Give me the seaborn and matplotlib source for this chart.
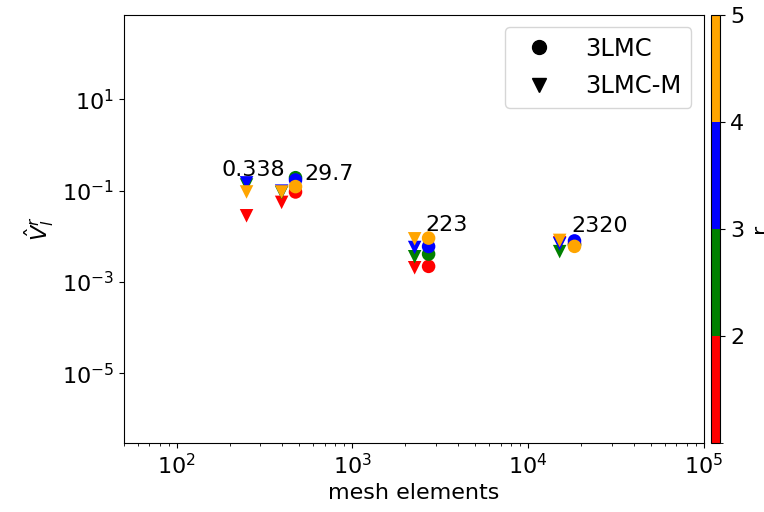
"""
Estimator variance vs mesh size for 3LMC and 3LMC-M, coloured by r.
"""
import matplotlib

matplotlib.use("Agg")
import matplotlib.pyplot as plt
import numpy as np
import pandas as pd
import seaborn as sns
from matplotlib.colors import BoundaryNorm, ListedColormap
from matplotlib.lines import Line2D
from matplotlib.ticker import FixedLocator, LogFormatterSciNotation, NullLocator

# r levels and their colours
R_LEVELS = [1, 2, 3, 4]
R_COLORS = ["red", "green", "blue", "orange"]

# 3LMC (circles)
MESH_3LMC = [475, 2718, 18400]
V_3LMC = {
    1: [0.093, 0.00219, 0.0068],
    2: [0.191, 0.00407, 0.0065],
    3: [0.170, 0.00596, 0.0079],
    4: [0.122, 0.0091, 0.0060],
}

# 3LMC-M (triangles)
MESH_3LMCM = [250, 396, 2264, 15150]
V_3LMCM = {
    1: [0.028, 0.055, 0.00204, 0.0072],
    2: [0.132, 0.090, 0.00355, 0.0046],
    3: [0.147, 0.097, 0.00566, 0.0068],
    4: [0.093, 0.093, 0.00877, 0.0081],
}

# cost annotations
ANN_TEXT = ["0.338", "29.7", "223", "2320"]
ANN_X = [180, 535, 2612, 17700]
ANN_Y = [0.205, 0.168, 0.0132, 0.0125]

Y_TICKS = [1e1, 1e-1, 1e-3, 1e-5]


def build_frame() -> pd.DataFrame:
    rows = []
    for r in R_LEVELS:
        for m, v in zip(MESH_3LMCM, V_3LMCM[r]):
            rows.append({"mesh": m, "V": v, "r": r, "method": "3LMC-M"})
        for m, v in zip(MESH_3LMC, V_3LMC[r]):
            rows.append({"mesh": m, "V": v, "r": r, "method": "3LMC"})
    return pd.DataFrame(rows)


def main():
    sns.set_style("ticks")
    plt.rcParams["font.family"] = ["DejaVu Sans"]
    plt.rcParams.update({
        "font.size": 16,
        "axes.edgecolor": "black",
        "text.color": "black",
        "axes.labelcolor": "black",
        "xtick.color": "black",
        "ytick.color": "black",
    })

    df = build_frame()
    palette = dict(zip(R_LEVELS, R_COLORS))

    fig = plt.figure(figsize=(7.64, 5.12), dpi=100)
    ax = fig.add_axes([0.162, 0.135, 0.759, 0.836])
    cax = fig.add_axes([0.9305, 0.135, 0.0125, 0.836])

    sns.scatterplot(
        data=df, x="mesh", y="V", hue="r", style="method",
        markers={"3LMC": "o", "3LMC-M": "v"}, palette=palette,
        s=95, linewidth=0, legend=False, ax=ax,
    )

    for t, x, y in zip(ANN_TEXT, ANN_X, ANN_Y):
        ax.text(x, y, t, fontsize=16)

    ax.set_xscale("log")
    ax.set_yscale("log")
    ax.set_xlim(50, 1e5)
    ax.set_ylim(3e-7, 7e2)
    ax.yaxis.set_major_locator(FixedLocator(Y_TICKS))
    ax.yaxis.set_major_formatter(LogFormatterSciNotation())
    ax.yaxis.set_minor_locator(NullLocator())
    ax.set_xlabel("mesh elements", fontsize=16)
    ax.set_ylabel(r"$\hat{V}_l^r$", fontsize=16)
    ax.tick_params(labelsize=16)

    handles = [
        Line2D([], [], marker="o", color="k", linestyle="", markersize=10, label="3LMC"),
        Line2D([], [], marker="v", color="k", linestyle="", markersize=10, label="3LMC-M"),
    ]
    ax.legend(handles=handles, loc="upper right", fontsize=17.5,
              handletextpad=0.9, labelspacing=0.55)

    cmap = ListedColormap(R_COLORS)
    norm = BoundaryNorm([1, 2, 3, 4, 5], cmap.N)
    sm = plt.cm.ScalarMappable(cmap=cmap, norm=norm)
    cbar = fig.colorbar(sm, cax=cax, ticks=[2, 3, 4, 5])
    cbar.ax.tick_params(labelsize=16)
    cbar.set_label("r", fontsize=16)

    fig.savefig("out.png", dpi=100)
    plt.close(fig)


if __name__ == "__main__":
    main()
